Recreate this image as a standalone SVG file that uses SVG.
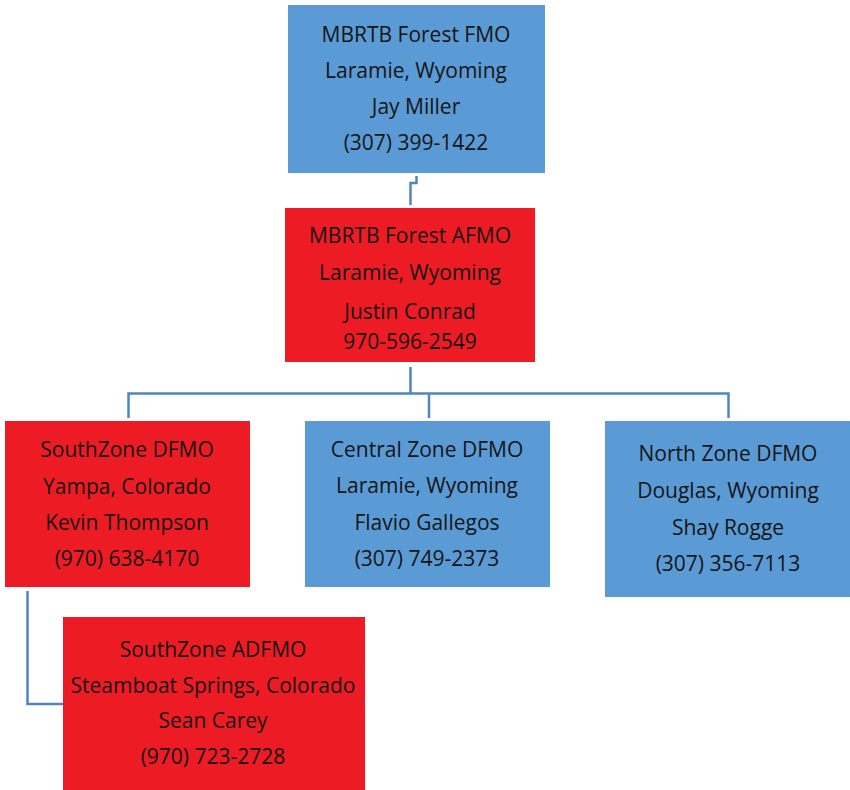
<svg xmlns="http://www.w3.org/2000/svg" width="850" height="790" viewBox="0 0 850 790">
<style>
.blue{fill:#5B9BD5}
.red{fill:#ED1C24}
text{font-family:"Open Sans","Liberation Sans",Arial,sans-serif;font-size:21px;fill:#141414;text-anchor:middle}
.conn{fill:none;stroke:#4F86C0;stroke-width:2.5}
</style>
<rect width="850" height="790" fill="#fff"/>
<g id="connectors">
<path class="conn" d="M416.5,176 V183 H410.5 V205"/>
<path class="conn" d="M410.5,367 V393.5"/>
<path class="conn" d="M128.5,418 V393.5 H728.5 V418"/>
<path class="conn" d="M429,393.5 V418"/>
<path class="conn" d="M27.5,591 V704 H63"/>
</g>
<g id="fmo">
<rect class="blue" x="288" y="5" width="257" height="168"/>
<text x="416" y="42">MBRTB Forest FMO</text>
<text x="416" y="78">Laramie, Wyoming</text>
<text x="416" y="114">Jay Miller</text>
<text x="416" y="150">(307) 399-1422</text>
</g>
<g id="afmo">
<rect class="red" x="285" y="208" width="250" height="154"/>
<text x="410" y="243">MBRTB Forest AFMO</text>
<text x="410" y="280">Laramie, Wyoming</text>
<text x="410" y="319">Justin Conrad</text>
<text x="410" y="349">970-596-2549</text>
</g>
<g id="south-dfmo">
<rect class="red" x="5" y="421" width="245" height="166"/>
<text x="127" y="457">SouthZone DFMO</text>
<text x="127" y="494">Yampa, Colorado</text>
<text x="127" y="530">Kevin Thompson</text>
<text x="127" y="566">(970) 638-4170</text>
</g>
<g id="central-dfmo">
<rect class="blue" x="305" y="421" width="245" height="166"/>
<text x="427" y="457">Central Zone DFMO</text>
<text x="427" y="493">Laramie, Wyoming</text>
<text x="427" y="530">Flavio Gallegos</text>
<text x="427" y="566">(307) 749-2373</text>
</g>
<g id="north-dfmo">
<rect class="blue" x="605" y="421" width="245" height="176"/>
<text x="728" y="461">North Zone DFMO</text>
<text x="728" y="498">Douglas, Wyoming</text>
<text x="728" y="535">Shay Rogge</text>
<text x="728" y="571">(307) 356-7113</text>
</g>
<g id="south-adfmo">
<rect class="red" x="63" y="617" width="302" height="173"/>
<text x="213" y="657">SouthZone ADFMO</text>
<text x="213" y="693">Steamboat Springs, Colorado</text>
<text x="213" y="728">Sean Carey</text>
<text x="213" y="764">(970) 723-2728</text>
</g>
</svg>
